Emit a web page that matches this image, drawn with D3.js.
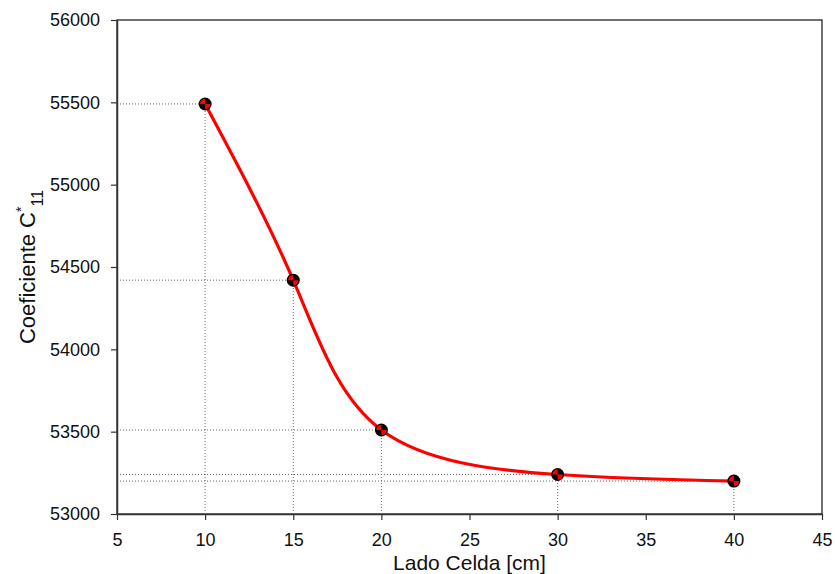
<!DOCTYPE html>
<html><head><meta charset="utf-8">
<script src="https://cdn.jsdelivr.net/npm/d3@7"></script>
<style>body{margin:0;background:#fff}svg{display:block}text{font-family:"Liberation Sans",Arial,sans-serif}</style>
</head><body>
<svg id="c" width="835" height="574"></svg>
<script>
const ladoCelda = [10, 15, 20, 30, 40];
const coeficiente = [55490, 54420, 53510, 53240, 53200];
const xTicks = [5, 10, 15, 20, 25, 30, 35, 40, 45];
const yTicks = [53000, 53500, 54000, 54500, 55000, 55500, 56000];

const svg = d3.select("#c");
const L = 117, R = 822, T = 20, B = 514;
const x = d3.scaleLinear().domain([5, 45]).range([L, R]);
const y = d3.scaleLinear().domain([53000, 56000]).range([B, T]);
const data = ladoCelda.map((v, i) => ({x: v, y: coeficiente[i]}));

// box
svg.append("rect").attr("x", L).attr("y", T).attr("width", R - L).attr("height", B - T)
  .attr("fill", "none").attr("stroke", "#111").attr("stroke-width", 1.2);

// drop lines
const g = svg.append("g").attr("stroke", "#666").attr("stroke-width", 1).attr("stroke-dasharray", "1,2");
data.forEach(d => {
  g.append("line").attr("x1", L).attr("x2", x(d.x)).attr("y1", y(d.y)).attr("y2", y(d.y));
  g.append("line").attr("x1", x(d.x)).attr("x2", x(d.x)).attr("y1", B).attr("y2", y(d.y));
});

// axes
const xa = svg.append("g").attr("transform", `translate(0,${B})`)
  .call(d3.axisBottom(x).tickValues(xTicks).tickSize(6).tickPadding(13).tickSizeOuter(0));
const ya = svg.append("g").attr("transform", `translate(${L},0)`)
  .call(d3.axisLeft(y).tickValues(yTicks).tickSize(6).tickPadding(11).tickFormat(d3.format("d")).tickSizeOuter(0));
[xa, ya].forEach(a => {
  a.select(".domain").attr("stroke", "#333").attr("stroke-width", 1.5);
  a.selectAll(".tick line").attr("stroke", "#333").attr("stroke-width", 1.2);
  a.selectAll(".tick text").attr("font-size", 18).attr("fill", "#111").attr("font-family", "Liberation Sans, Arial, sans-serif");
});

// curve
const line = d3.line().x(d => x(d.x)).y(d => y(d.y)).curve(d3.curveNatural);
svg.append("path").datum(data).attr("d", line).attr("fill", "none").attr("stroke", "#ff0000").attr("stroke-width", 3.2);

// markers
const r = 6.5;
const arc = d3.arc().innerRadius(0).outerRadius(r - 1.3);
data.forEach(d => {
  const m = svg.append("g").attr("transform", `translate(${x(d.x)},${y(d.y)})`);
  m.append("circle").attr("r", r).attr("fill", "#000");
  m.append("path").attr("d", arc({startAngle: -Math.PI / 2, endAngle: 0})).attr("fill", "#ff0000");
  m.append("path").attr("d", arc({startAngle: Math.PI / 2, endAngle: Math.PI})).attr("fill", "#ff0000");
});

// titles
svg.append("text").attr("x", (L + R) / 2).attr("y", 570).attr("text-anchor", "middle")
  .attr("font-size", 21).attr("fill", "#111").text("Lado Celda [cm]");
const yt = svg.append("text").attr("transform", `translate(35,${(T + B) / 2}) rotate(-90)`)
  .attr("text-anchor", "middle").attr("font-size", 22).attr("fill", "#111");
yt.append("tspan").text("Coeficiente C");
yt.append("tspan").attr("font-size", 14).attr("dy", -9).text("*");
yt.append("tspan").attr("font-size", 16).attr("dy", 17).text("11");
</script>
</body></html>
